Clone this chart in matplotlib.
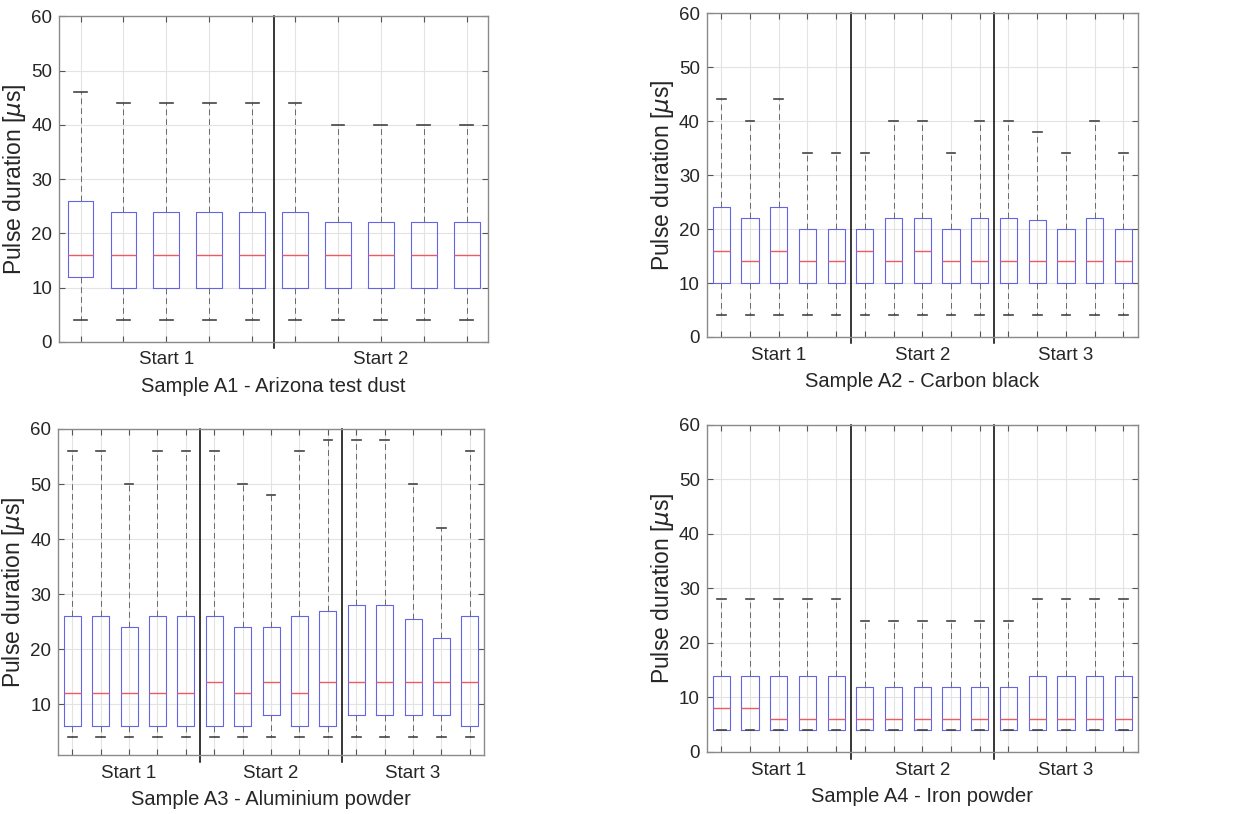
import matplotlib.pyplot as plt

plt.rcParams['font.family'] = ['Liberation Sans', 'DejaVu Sans']
plt.rcParams['mathtext.fontset'] = 'dejavusans'

# ---- data (whisker low, q1, median, q3, whisker high) ----
a1_low = [4] * 10
a1_q1 = [12, 10, 10, 10, 10, 10, 10, 10, 10, 10]
a1_med = [16] * 10
a1_q3 = [26, 24, 24, 24, 24, 24, 22, 22, 22, 22]
a1_high = [46, 44, 44, 44, 44, 44, 40, 40, 40, 40]

a2_low = [4] * 15
a2_q1 = [10] * 15
a2_med = [16, 14, 16, 14, 14, 16, 14, 16, 14, 14, 14, 14, 14, 14, 14]
a2_q3 = [24, 22, 24, 20, 20, 20, 22, 22, 20, 22, 22, 21.6, 20, 22, 20]
a2_high = [44, 40, 44, 34, 34, 34, 40, 40, 34, 40, 40, 38, 34, 40, 34]

a3_low = [4] * 15
a3_q1 = [6, 6, 6, 6, 6, 6, 6, 8, 6, 6, 8, 8, 8, 8, 6]
a3_med = [12, 12, 12, 12, 12, 14, 12, 14, 12, 14, 14, 14, 14, 14, 14]
a3_q3 = [26, 26, 24, 26, 26, 26, 24, 24, 26, 27, 28, 28, 25.5, 22, 26]
a3_high = [56, 56, 50, 56, 56, 56, 50, 48, 56, 58, 58, 58, 50, 42, 56]

a4_low = [4] * 15
a4_q1 = [4] * 15
a4_med = [8, 8, 6, 6, 6, 6, 6, 6, 6, 6, 6, 6, 6, 6, 6]
a4_q3 = [14, 14, 14, 14, 14, 12, 12, 12, 12, 12, 12, 14, 14, 14, 14]
a4_high = [28, 28, 28, 28, 28, 24, 24, 24, 24, 24, 24, 28, 28, 28, 28]

samples = ['Sample A1 - Arizona test dust', 'Sample A2 - Carbon black',
           'Sample A3 - Aluminium powder', 'Sample A4 - Iron powder']
runs_per_start = 5

TXT = '#262626'
BOX = '#6464e8'
MED = '#ee5a60'
WHISK = '#6a6a6a'
CAP = '#444444'


def make_stats(low, q1, med, q3, high):
    return [dict(whislo=a, q1=b, med=c, q3=d, whishi=e, fliers=[])
            for a, b, c, d, e in zip(low, q1, med, q3, high)]


def draw_panel(ax, stats, title, ylim):
    n = len(stats)
    pos = list(range(1, n + 1))
    ax.bxp(stats, positions=pos, widths=0.6, showfliers=False,
           boxprops=dict(color=BOX, lw=0.8),
           medianprops=dict(color=MED, lw=1.0),
           whiskerprops=dict(color=WHISK, lw=0.7, linestyle=(0, (6, 4))),
           capprops=dict(color=CAP, lw=1.2))
    ax.set_xlim(0.5, n + 0.5)
    ax.set_ylim(*ylim)
    ax.set_yticks(range(10 if ylim[0] > 0 else 0, 61, 10))
    ax.set_xticks(pos)
    ax.set_xticklabels([])
    ax.grid(True, color='#e3e3e3', lw=0.8)
    ax.set_axisbelow(True)
    ax.tick_params(direction='in', length=4, color='#555555', top=True, right=True,
                   labelsize=13.5, labelcolor=TXT, pad=5)
    for s in ax.spines.values():
        s.set_color('#8a8a8a')
        s.set_linewidth(1.0)
    ngroups = n // runs_per_start
    for g in range(1, ngroups):
        ax.axvline(g * runs_per_start + 0.5, ymin=-0.02, ymax=1, color='black',
                   lw=1.1, clip_on=False)
    for g in range(ngroups):
        cx = g * runs_per_start + (runs_per_start + 1) / 2
        ax.annotate(f'Start {g + 1}', xy=(cx, 0), xycoords=('data', 'axes fraction'),
                    xytext=(0, -13), textcoords='offset points',
                    ha='center', va='center', fontsize=13.5, color=TXT)
    ax.annotate(title, xy=(0.5, 0), xycoords='axes fraction',
                xytext=(0, -32), textcoords='offset points',
                ha='center', va='center', fontsize=14.5, color=TXT)
    ax.set_ylabel(r'Pulse duration [$\mu$s]', fontsize=16.5, color=TXT, labelpad=2)


fig = plt.figure(figsize=(12.38, 8.14), dpi=100)
ax1 = fig.add_axes([0.0477, 0.580, 0.3466, 0.400])
ax2 = fig.add_axes([0.571, 0.586, 0.348, 0.398])
ax3 = fig.add_axes([0.0469, 0.0725, 0.3441, 0.4005])
ax4 = fig.add_axes([0.571, 0.0762, 0.348, 0.4017])

draw_panel(ax1, make_stats(a1_low, a1_q1, a1_med, a1_q3, a1_high), samples[0], (0, 60))
draw_panel(ax2, make_stats(a2_low, a2_q1, a2_med, a2_q3, a2_high), samples[1], (0, 60))
draw_panel(ax3, make_stats(a3_low, a3_q1, a3_med, a3_q3, a3_high), samples[2], (0.8, 60))
draw_panel(ax4, make_stats(a4_low, a4_q1, a4_med, a4_q3, a4_high), samples[3], (0, 60))

fig.savefig('out.png', dpi=100)
